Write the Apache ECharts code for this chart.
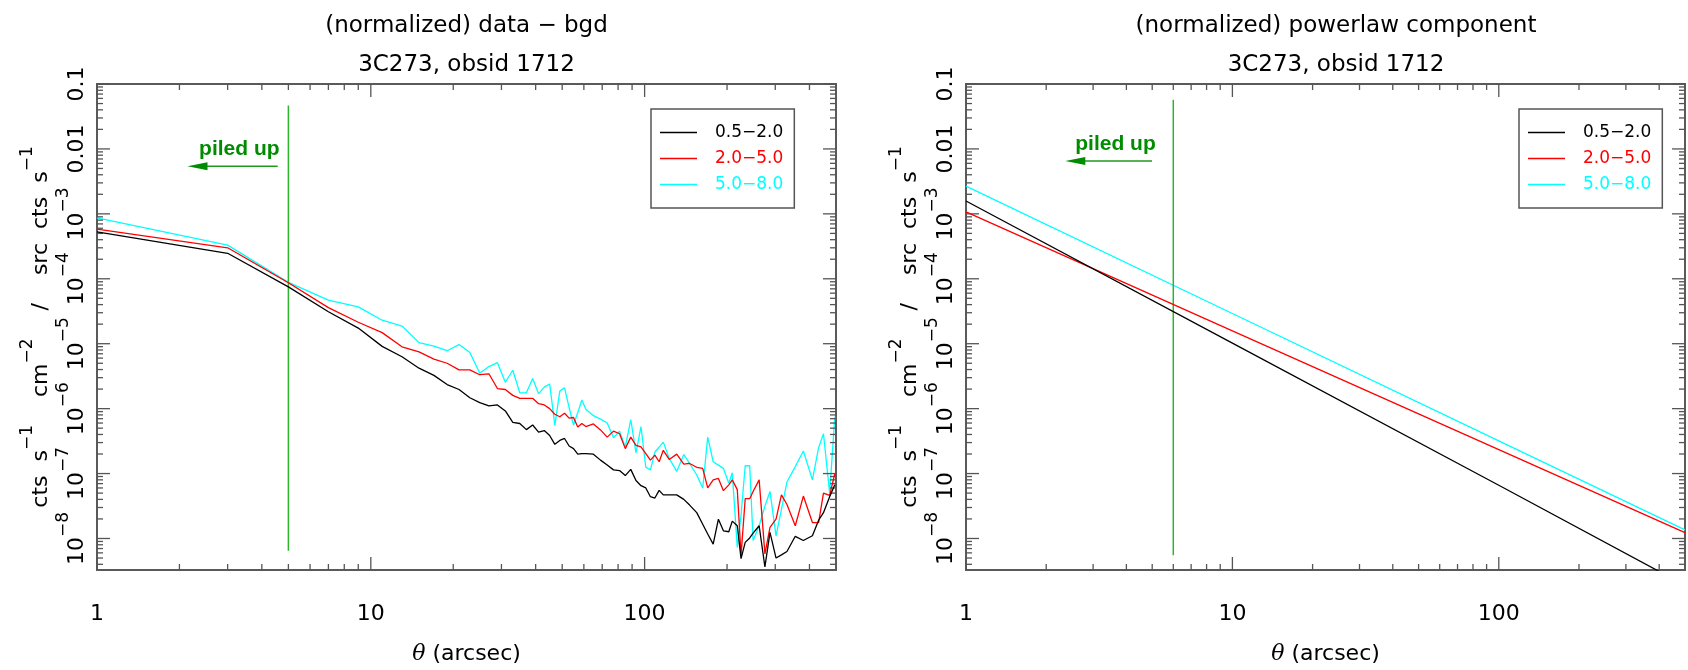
<!DOCTYPE html>
<html>
<head>
<meta charset="utf-8">
<script src="https://cdn.jsdelivr.net/npm/echarts@6/dist/echarts.min.js"></script>
<style>
  html, body { margin: 0; padding: 0; background: #fff; }
  #chart { width: 1688px; height: 670px; }
</style>
</head>
<body>
<div id="chart"></div>
<script>
// radial profile bins, arcsec (left panel)
const theta = [1, 3, 5, 7, 9, 11, 13, 15, 17, 19, 21, 23, 25, 27, 29, 31, 33, 35, 37, 39,
  41, 43, 45, 47, 49, 51, 53, 55, 57, 59, 61, 65, 69, 73, 77, 81, 85, 89, 93, 97,
  101, 105, 109, 113, 117, 123, 131, 139, 146, 155, 163, 170, 178, 186, 194, 203, 209, 218, 225, 233,
  242, 249, 262, 275, 287, 302, 316, 331, 355, 380, 410, 432, 450, 474, 495];

// (normalized) data - bgd
const softData = [5.27e-4, 2.47e-4, 7.5e-5, 3.1e-5, 1.74e-5, 9.1e-6, 6.3e-6, 4.2e-6, 3.25e-6, 2.35e-6,
  1.97e-6, 1.47e-6, 1.24e-6, 1.1e-6, 1.14e-6, 9.2e-7, 6.15e-7, 5.9e-7, 4.75e-7, 5.6e-7,
  4.34e-7, 4.6e-7, 3.86e-7, 2.82e-7, 3.24e-7, 3.47e-7, 2.66e-7, 2.42e-7, 1.99e-7, 2.03e-7,
  2.03e-7, 1.99e-7, 1.61e-7, 1.35e-7, 1.14e-7, 1.11e-7, 9.3e-8, 1.16e-7, 7.8e-8, 6.5e-8,
  6.0e-8, 4.4e-8, 4.2e-8, 5.5e-8, 4.7e-8, 4.7e-8, 4.7e-8, 4.0e-8, 3.27e-8, 2.5e-8,
  1.66e-8, 1.17e-8, 8.2e-9, 1.98e-8, 1.31e-8, 1.27e-8, 1.85e-8, 1.57e-8, 4.9e-9, 8.7e-9,
  1.02e-8, 1.21e-8, 1.57e-8, 3.65e-9, 1.24e-8, 5.0e-9, 5.6e-9, 6.3e-9, 1.08e-8, 9.3e-9,
  1.1e-8, 1.91e-8, 2.5e-8, 4.4e-8, 6.7e-8];
const midData = [5.8e-4, 3.0e-4, 8.7e-5, 3.6e-5, 2.14e-5, 1.48e-5, 8.95e-6, 7.5e-6, 5.8e-6, 5.0e-6,
  3.96e-6, 3.96e-6, 3.33e-6, 3.44e-6, 2.04e-6, 1.97e-6, 1.6e-6, 1.44e-6, 1.44e-6, 1.44e-6,
  1.19e-6, 1.14e-6, 1.0e-6, 8.2e-7, 7.5e-7, 8.5e-7, 7.15e-7, 7.3e-7, 5.2e-7, 5.9e-7,
  5.3e-7, 5.8e-7, 4.7e-7, 3.64e-7, 4.5e-7, 4.1e-7, 2.42e-7, 3.64e-7, 2.72e-7, 2.57e-7,
  2.03e-7, 1.61e-7, 1.92e-7, 1.52e-7, 2.28e-7, 1.65e-7, 1.99e-7, 1.4e-7, 1.43e-7, 1.25e-7,
  1.2e-7, 6.0e-8, 8.0e-8, 8.4e-8, 5.45e-8, 6.7e-8, 8.0e-8, 5.65e-8, 5.5e-9, 4.1e-8,
  4.1e-8, 5.3e-8, 8.0e-8, 5.8e-9, 1.48e-8, 1.98e-8, 4.7e-8, 3.34e-8, 1.57e-8, 4.5e-8,
  1.76e-8, 1.76e-8, 5.0e-8, 4.6e-8, 1.0e-7];
const hardData = [8.7e-4, 3.3e-4, 8.8e-5, 4.7e-5, 3.7e-5, 2.3e-5, 1.87e-5, 1.04e-5, 9.2e-6, 7.8e-6,
  9.7e-6, 7.3e-6, 3.5e-6, 4.45e-6, 5.1e-6, 2.55e-6, 3.9e-6, 1.75e-6, 1.75e-6, 2.9e-6,
  1.69e-6, 2.14e-6, 2.4e-6, 5.5e-7, 1.86e-6, 2.09e-6, 1.04e-6, 5.6e-7, 8.7e-7, 1.36e-6,
  9.8e-7, 7.8e-7, 6.9e-7, 6.0e-7, 3.56e-7, 4.5e-7, 2.56e-7, 6.8e-7, 2.08e-7, 5.3e-7,
  1.25e-7, 1.14e-7, 2.15e-7, 2.56e-7, 3.05e-7, 1.71e-7, 1.08e-7, 1.96e-7, 1.43e-7, 9.5e-8,
  6.0e-8, 3.64e-7, 1.52e-7, 1.35e-7, 1.2e-7, 7.1e-8, 1.03e-7, 7.3e-9, 2.28e-8, 1.32e-7,
  1.32e-7, 9.3e-9, 1.57e-8, 3.15e-8, 5.3e-8, 1.1e-8, 2.8e-8, 7.4e-8, 1.28e-7, 2.23e-7,
  8.0e-8, 2.5e-7, 4.1e-7, 5.0e-8, 7.5e-7];

// (normalized) powerlaw component (right panel)
const plawTheta = [1, 10, 100, 500];
const plawSoft = [1.58e-3, 1.02e-5, 6.6e-8, 1.9e-9];
const plawMid = [1.07e-3, 1.58e-5, 2.34e-7, 1.23e-8];
const plawHard = [2.67e-3, 2.92e-5, 3.18e-7, 1.36e-8];

const bandNames = ['0.5\u22122.0', '2.0\u22125.0', '5.0\u22128.0'];
const bandColors = ['#000000', '#ff0000', '#00ffff'];
const panelTitles = [
  ['(normalized) data \u2212 bgd', '3C273, obsid 1712'],
  ['(normalized) powerlaw component', '3C273, obsid 1712']
];
const xTickLabels = ['1', '10', '100'];
const yTickLabels = ['10^\u22128', '10^\u22127', '10^\u22126', '10^\u22125', '10^\u22124', '10^\u22123', '0.01', '0.1'];
const yAxisTitle = 'cts  s^\u22121    cm^\u22122    /    src  cts  s^\u22121';

// pile-up marker: vertical line theta and its extent, per panel
const pileupTheta = [5, 6];
const pileupSpan = [[0.0467, 6.5e-9], [0.057, 5.5e-9]];

const X_MIN = 1, X_MAX = 500, Y_MIN = 3.27e-9, Y_MAX = 0.1;
const FONT = "'DejaVu Sans', sans-serif";
const grids = [
  { left: 97, top: 84, width: 739, height: 494 },
  { left: 966, top: 84, width: 740, height: 494 }
];
const legendPos = [{ left: 651, top: 109 }, { left: 1519, top: 109 }];
const notes = [
  { text: [3.31, 9.8e-3], from: [4.57, 5.4e-3], to: [2.14, 5.4e-3] },
  { text: [3.64, 0.0118], from: [4.99, 6.5e-3], to: [2.36, 6.5e-3] }
];

const rich = {
  b: { fontFamily: FONT, fontSize: 22, color: '#000', lineHeight: 33, verticalAlign: 'bottom' },
  s: { fontFamily: FONT, fontSize: 17, color: '#000', verticalAlign: 'top' },
  th: { fontFamily: 'DejaVu Serif', fontSize: 22, fontStyle: 'italic', color: '#000', lineHeight: 33, verticalAlign: 'bottom' }
};
const toRich = str => str.split(/(\^\S+)/).filter(Boolean)
  .map(p => p[0] === '^' ? '{s|' + p.slice(1) + '}' : '{b|' + p + '}').join('');

const isDecade = v => Math.abs(Math.log10(v) - Math.round(Math.log10(v))) < 1e-6;

function tickSeries(k) {
  const ticks = [];
  const steps = [2, 3, 4, 5, 6, 7, 8, 9];
  [1, 10, 100].forEach(d => {
    ticks.push({ ax: 'x', v: d, major: true });
    steps.forEach(m => { if (d * m < X_MAX) ticks.push({ ax: 'x', v: d * m, major: false }); });
  });
  for (let e = -9; e <= -1; e++) {
    const d = Math.pow(10, e);
    if (d >= Y_MIN) ticks.push({ ax: 'y', v: d, major: true });
    steps.forEach(m => { if (d * m > Y_MIN && d * m < Y_MAX) ticks.push({ ax: 'y', v: d * m, major: false }); });
  }
  return {
    type: 'custom', xAxisIndex: k, yAxisIndex: k, silent: true, clip: false, z: 4,
    data: ticks.map(t => t.ax === 'x' ? [t.v, 1e-5] : [10, t.v]),
    renderItem: (params, api) => {
      const t = ticks[params.dataIndex];
      const len = t.major ? 13 : 6;
      const st = { stroke: '#555', lineWidth: 1.3 };
      let a, b;
      if (t.ax === 'x') {
        a = api.coord([t.v, Y_MIN]); b = api.coord([t.v, Y_MAX]);
        return { type: 'group', children: [
          { type: 'line', shape: { x1: a[0], y1: a[1], x2: a[0], y2: a[1] - len }, style: st },
          { type: 'line', shape: { x1: b[0], y1: b[1], x2: b[0], y2: b[1] + len }, style: st }
        ] };
      }
      a = api.coord([X_MIN, t.v]); b = api.coord([X_MAX, t.v]);
      return { type: 'group', children: [
        { type: 'line', shape: { x1: a[0], y1: a[1], x2: a[0] + len, y2: a[1] }, style: st },
        { type: 'line', shape: { x1: b[0], y1: b[1], x2: b[0] - len, y2: b[1] }, style: st }
      ] };
    }
  };
}

const pairs = (xs, ys) => xs.map((x, i) => [x, ys[i]]);
const panelData = [
  [softData, midData, hardData].map(ys => pairs(theta, ys)),
  [plawSoft, plawMid, plawHard].map(ys => pairs(plawTheta, ys))
];

const series = [];
panelData.forEach((bands, k) => {
  bands.forEach((d, i) => series.push({
    type: 'line', name: bandNames[i], xAxisIndex: k, yAxisIndex: k, data: d,
    symbol: 'none', z: 5 - i,
    lineStyle: { color: bandColors[i], width: 1.3 }, itemStyle: { color: bandColors[i] }
  }));
  series.push({
    type: 'line', xAxisIndex: k, yAxisIndex: k, symbol: 'none', silent: true,
    data: pileupSpan[k].map(y => [pileupTheta[k], y]),
    lineStyle: { color: '#2db52d', width: 1.5 }
  });
  series.push(tickSeries(k));
});

const chart = echarts.init(document.getElementById('chart'));
chart.setOption({
  animation: false,
  backgroundColor: '#fff',
  grid: grids.map(g => Object.assign({ show: true, borderColor: '#5a5a5a', borderWidth: 2 }, g)),
  xAxis: grids.map((g, k) => ({
    type: 'log', logBase: 10, gridIndex: k, min: X_MIN, max: X_MAX,
    axisLine: { show: false }, axisTick: { show: false }, splitLine: { show: false },
    axisLabel: {
      color: '#000', fontFamily: FONT, fontSize: 22, margin: 33,
      formatter: v => isDecade(v) ? (xTickLabels[Math.round(Math.log10(v))] || '') : ''
    },
    name: '{th|\u03b8}{b| (arcsec)}', nameLocation: 'middle', nameGap: 62,
    nameTextStyle: { rich }
  })),
  yAxis: grids.map((g, k) => ({
    type: 'log', logBase: 10, gridIndex: k, min: Y_MIN, max: Y_MAX, splitNumber: 8,
    axisLine: { show: false }, axisTick: { show: false }, splitLine: { show: false },
    axisLabel: {
      rotate: 90, margin: 9, rich,
      formatter: v => {
        if (!isDecade(v)) return '';
        const lab = yTickLabels[Math.round(Math.log10(v)) + 8];
        return lab ? toRich(lab) : '';
      }
    },
    name: toRich(yAxisTitle), nameLocation: 'middle', nameRotate: 90, nameGap: 45,
    nameTextStyle: { rich }
  })),
  legend: legendPos.map(p => ({
    left: p.left, top: p.top, orient: 'vertical', selectedMode: false,
    borderColor: '#555', borderWidth: 1.5, padding: [15, 11, 15, 9],
    icon: 'rect', itemWidth: 37, itemHeight: 1.4, itemGap: 9,
    textStyle: { fontFamily: FONT, fontSize: 17, rich: { g: { width: 13 } } },
    formatter: n => '{g|}' + n,
    data: bandNames.map((n, i) => ({ name: n, textStyle: { color: bandColors[i] } }))
  })),
  series
});

// titles and pile-up annotations
const graphics = [];
panelTitles.forEach((lines, k) => {
  const cx = grids[k].left + grids[k].width / 2;
  lines.forEach((t, j) => graphics.push({
    type: 'text', x: cx, y: 26 + j * 39,
    style: { text: t, font: '23px ' + FONT, fill: '#000', textAlign: 'center', textVerticalAlign: 'middle' }
  }));
});
notes.forEach((n, k) => {
  const finder = { xAxisIndex: k, yAxisIndex: k };
  const tp = chart.convertToPixel(finder, n.text);
  const a = chart.convertToPixel(finder, n.from);
  const b = chart.convertToPixel(finder, n.to);
  graphics.push({
    type: 'text', x: tp[0], y: tp[1],
    style: { text: 'piled up', font: "bold 21px 'Liberation Sans Narrow', 'Liberation Sans'", fill: '#008c00', textAlign: 'center', textVerticalAlign: 'middle' }
  });
  graphics.push({
    type: 'line', shape: { x1: a[0], y1: a[1], x2: b[0] + 18, y2: b[1] },
    style: { stroke: '#1f9a1f', lineWidth: 1.5 }
  });
  graphics.push({
    type: 'polygon', shape: { points: [[b[0], b[1]], [b[0] + 20, b[1] - 4], [b[0] + 20, b[1] + 4]] },
    style: { fill: '#008c00' }
  });
});
chart.setOption({ graphic: graphics });
</script>
</body>
</html>
